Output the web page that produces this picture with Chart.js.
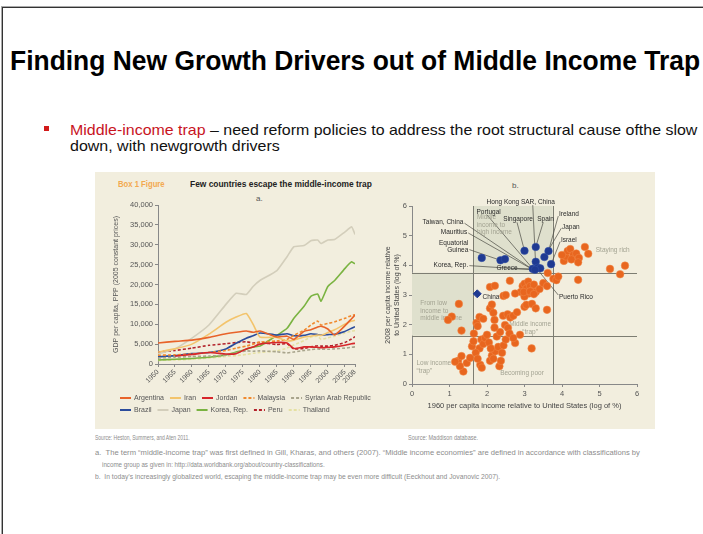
<!DOCTYPE html>
<html>
<head>
<meta charset="utf-8">
<script src="https://cdn.jsdelivr.net/npm/chart.js@4.4.0/dist/chart.umd.min.js"></script>
<style>
body{margin:0;width:703px;height:534px;overflow:hidden;background:#fff;position:relative;font-family:'Liberation Sans',Arial,sans-serif}
.abs{position:absolute;white-space:nowrap;transform-origin:0 0;line-height:1}
#frame{position:absolute;left:2px;top:7px;width:730px;height:560px;border-left:1px solid #333;border-top:1px solid #333;box-shadow:-1px -1px 0 #aaa}
#title{left:10px;top:48px;font-size:27px;font-weight:bold;color:#000}
.bl{font-size:15px;color:#111}
#dot{left:44px;top:126px;width:5px;height:5px;background:#d21a1a}
#box{position:absolute;left:95px;top:172px;width:560px;height:257px;background:#f2eede}
.head{font-size:9.5px;font-weight:bold;color:#222}
.sub{font-size:8px;color:#555}
.fn{font-size:7px;color:#8c8c8c}
canvas{position:absolute}
</style>
</head>
<body>
<div id="frame"></div>
<div id="title" class="abs" data-w="690">Finding New Growth Drivers out of Middle Income Trap</div>
<div id="dot" class="abs"></div>
<div class="abs bl" style="left:70px;top:122px" data-w="627"><span style="color:#c8141e">Middle-income trap</span> – need reform policies to address the root structural cause ofthe slow</div>
<div class="abs bl" style="left:70px;top:138px" data-w="210">down, with newgrowth drivers</div>
<div id="box"></div>
<div class="abs head" style="left:118px;top:179px;color:#f3a950" data-w="47">Box 1 Figure</div>
<div class="abs head" style="left:190px;top:179px" data-w="182">Few countries escape the middle-income trap</div>
<div class="abs sub" style="left:256px;top:195px">a.</div>
<div class="abs sub" style="left:512px;top:182px">b.</div>
<canvas id="incomeChart" width="280" height="232" style="left:100px;top:193px"></canvas>
<canvas id="trapChart" width="275" height="225" style="left:380px;top:193px"></canvas>
<div class="abs fn" style="left:95px;top:434px" data-w="95">Source: Heston, Summers, and Aten 2011.</div>
<div class="abs fn" style="left:408px;top:434px" data-w="70">Source: Maddison database.</div>
<div class="abs fn" style="left:95px;top:449px" data-w="545">a.&nbsp;&nbsp;The term “middle-income trap” was first defined in Gill, Kharas, and others (2007). “Middle income economies” are defined in accordance with classifications by</div>
<div class="abs fn" style="left:102px;top:461px" data-w="223">income group as given in: http://data.worldbank.org/about/country-classifications.</div>
<div class="abs fn" style="left:95px;top:473px" data-w="405">b.&nbsp;&nbsp;In today’s increasingly globalized world, escaping the middle-income trap may be even more difficult (Eeckhout and Jovanovic 2007).</div>

<script>
// Panel a: GDP per capita, PPP (2005 constant prices)
const years = [1950, 1955, 1960, 1965, 1970, 1973, 1976, 1978, 1980, 1985, 1988, 1990, 1993, 1995, 1997, 1998, 2000, 2002, 2005, 2007, 2008];
const tickYears = [1950, 1955, 1960, 1965, 1970, 1975, 1980, 1985, 1990, 1995, 2000, 2005, 2008];

const argentina = [5300, 5700, 6000, 6700, 7600, 8000, 8300, 8000, 8300, 6800, 7000, 6200, 8200, 8600, 9300, 9500, 8800, 7300, 9600, 11400, 12300];
const iran      = [3000, 3800, 5000, 7500, 10500, 11800, 12700, 10000, 6800, 6700, 5800, 6000, 6800, 7000, 7300, 7200, 7900, 8600, 10000, 10800, 11000];
const jordan    = [null, 2000, 2400, 2900, 2500, 2600, 3800, 4300, 5000, 5400, 5300, 3900, 4300, 4300, 4200, 4100, 4200, 4300, 4700, 5100, 5200];
const malaysia  = [2200, 2300, 2500, 2900, 3400, 4000, 4500, 5000, 5500, 5800, 6200, 7200, 8500, 9800, 10800, 9800, 10200, 10600, 11500, 12200, 12400];
const syria     = [1500, 1700, 1900, 2000, 2200, 2800, 3300, 3200, 3300, 3100, 2800, 3000, 3400, 3600, 3800, 3700, 3700, 3800, 4000, 4200, 4300];
const brazil    = [1800, 2100, 2600, 2900, 3800, 5200, 6500, 7100, 7800, 7300, 7600, 7100, 7200, 7600, 7400, 7300, 7400, 7500, 8200, 9000, 9400];
const japan     = [2500, 3800, 6500, 9800, 15000, 17800, 17500, 19500, 21000, 23500, 27000, 29500, 29800, 31000, 31200, 30300, 31200, 31300, 33200, 34500, 32600];
const korea     = [1000, 1200, 1400, 1700, 2300, 3000, 3700, 4300, 4500, 7200, 9000, 11500, 14500, 17000, 17600, 15800, 19500, 21000, 24000, 25700, 25200];
const peru      = [3000, 3400, 4000, 4700, 5100, 5400, 5600, 5300, 5400, 4900, 5100, 3800, 3900, 4300, 4600, 4500, 4500, 4700, 5400, 6300, 6900];
const thailand  = [900, 1000, 1200, 1500, 1900, 2100, 2400, 2700, 2900, 3300, 4000, 4800, 5900, 6800, 7000, 6200, 6600, 7000, 7800, 8300, 8400];

const countries = ['Argentina', 'Iran', 'Jordan', 'Malaysia', 'Syrian Arab Republic', 'Brazil', 'Japan', 'Korea, Rep.', 'Peru', 'Thailand'];
const countryValues = [argentina, iran, jordan, malaysia, syria, brazil, japan, korea, peru, thailand];
const countryColors = ['#e8632a', '#f3c46c', '#d7262b', '#f08a2e', '#a8a48c', '#2b4c9c', '#d3cebb', '#7ab341', '#b3212a', '#e5e0a2'];
const countryDashed = [false, false, false, true, true, false, false, false, true, true];

// Panel b: 1960 vs 2008 income relative to US (log of %)
const otherX = [3.62, 3.77, 3.85, 3.9, 4.05, 4.1, 4.15, 4.22, 4.3, 4.38, 4.25, 4.45, 4.43, 4.0, 4.61, 4.7, 4.43, 5.28, 5.55, 5.68,
  2.61, 2.08, 2.21, 2.44, 2.95, 3.0, 3.05, 3.1, 3.15, 3.2, 3.12, 3.25, 2.9, 3.0, 3.3, 3.4, 3.5, 3.6,
  1.25, 2.5, 2.75, 2.98, 3.15, 3.25, 1.06, 0.96, 1.32, 1.72, 1.8, 1.9, 2.08, 2.13, 2.17, 2.2, 2.43, 2.55, 2.62, 2.7, 2.8, 3.0, 3.05, 3.2, 3.3, 3.6, 2.48, 2.56, 3.19, 2.88, 2.75,
  1.23, 1.32, 1.37, 1.46, 1.55, 1.6, 1.64, 1.8, 1.85, 1.9, 1.82, 1.86, 1.95, 2.0, 2.08, 2.13, 2.17, 2.22, 2.26, 2.3, 2.33, 2.37, 2.44, 2.5, 1.7, 1.75, 2.05, 2.4, 1.28, 1.15, 2.6, 2.7, 2.1, 1.65, 1.75, 2.35, 2.2];
const otherY = [3.74, 3.55, 3.5, 3.62, 4.15, 4.3, 4.48, 4.55, 4.35, 4.4, 4.2, 4.25, 4.1, 4.35, 4.62, 4.39, 3.51, 3.88, 3.7, 3.99,
  3.48, 3.27, 3.31, 2.97, 3.3, 3.38, 3.22, 3.45, 3.3, 3.15, 3.05, 3.35, 3.1, 2.95, 3.1, 3.2, 3.4, 3.3,
  2.7, 3.0, 3.05, 3.1, 3.12, 3.03, 2.27, 2.16, 1.8, 2.06, 2.26, 2.2, 2.55, 2.68, 2.4, 2.16, 2.3, 2.35, 2.24, 2.3, 2.42, 2.6, 2.67, 2.7, 2.55, 2.5, 1.99, 1.89, 1.2, 1.66, 1.38,
  0.78, 0.94, 0.42, 0.71, 0.88, 1.27, 1.44, 1.2, 1.5, 1.35, 0.65, 0.55, 1.55, 1.66, 0.78, 0.96, 0.85, 1.1, 1.6, 1.25, 0.6, 0.78, 1.3, 1.5, 1.05, 0.85, 1.4, 1.05, 0.6, 0.75, 1.7, 1.55, 1.2, 1.7, 1.95, 1.75, 1.9];
const escapeX = [1.86, 2.36, 2.48, 3.0, 3.3, 3.53, 3.64, 3.71, 3.22, 3.3, 3.35, 3.42, 3.28];
const escapeY = [4.25, 4.17, 4.21, 4.49, 4.62, 4.28, 4.48, 4.04, 3.88, 4.12, 3.92, 3.9, 3.85];
const chinaX = [1.74];
const chinaY = [3.04];
const thresholds = [1.63, 3.75];

Chart.defaults.font.family = "'Liberation Sans', Arial, sans-serif";
Chart.defaults.color = '#555';

// draws the two-row line legend under panel a
const lineLegend = {
  id: 'lineLegend',
  afterDraw(chart) {
    const ctx = chart.ctx;
    ctx.save();
    ctx.font = "7px 'Liberation Sans', Arial, sans-serif";
    ctx.textBaseline = 'middle';
    let x = 20, y = 205;
    chart.data.datasets.forEach((ds, i) => {
      if (i === 5) { x = 20; y = 217; }
      ctx.strokeStyle = ds.borderColor;
      ctx.lineWidth = 2;
      ctx.setLineDash(ds.borderDash || []);
      ctx.beginPath();
      ctx.moveTo(x, y);
      ctx.lineTo(x + 11, y);
      ctx.stroke();
      ctx.setLineDash([]);
      ctx.fillStyle = '#555';
      ctx.fillText(ds.label, x + 14, y + 0.5);
      x += 14 + ctx.measureText(ds.label).width + 6;
    });
    ctx.restore();
  }
};

function createIncomeChart() {
  const ctx = document.getElementById('incomeChart').getContext('2d');
  new Chart(ctx, {
    type: 'line',
    data: {
      datasets: countries.map((name, i) => ({
        label: name,
        data: years.map((yr, j) => ({ x: yr, y: countryValues[i][j] })),
        borderColor: countryColors[i],
        borderWidth: 1.6,
        borderDash: countryDashed[i] ? [3, 2] : [],
        pointRadius: 0,
        tension: 0.15,
        fill: false
      }))
    },
    options: {
      responsive: false,
      animation: false,
      layout: { padding: { left: 12, top: 12, right: 25, bottom: 33 } },
      plugins: { legend: { display: false }, tooltip: { enabled: false } },
      scales: {
        x: {
          type: 'linear', min: 1950, max: 2008,
          afterBuildTicks: s => { s.ticks = tickYears.map(v => ({ value: v })); },
          afterFit: s => { s.height = 28; },
          ticks: { minRotation: 45, maxRotation: 45, padding: 1, font: { size: 7 }, callback: v => String(v) },
          grid: { drawOnChartArea: false, tickLength: 3, color: '#888' },
          border: { color: '#888' }
        },
        y: {
          min: 0, max: 40000,
          afterFit: s => { s.width = 46; },
          ticks: { stepSize: 5000, padding: 2, font: { size: 7.5 }, callback: v => v.toLocaleString('en-US') },
          grid: { drawOnChartArea: false, tickLength: 3, color: '#888' },
          border: { color: '#888' },
          title: { display: true, text: 'GDP per capita, PPP (2005 constant prices)', font: { size: 7 }, padding: 0 }
        }
      }
    },
    plugins: [lineLegend]
  });
}

// country labels with leader lines and region captions for panel b
const leaderLabels = [
  { text: ['Hong Kong SAR, China'], tx: 2.9, ty: 6.14, align: 'center', from: [3.22, 6.03], to: [3.3, 3.95] },
  { text: ['Portugal'], tx: 1.72, ty: 5.79, align: 'left', from: [2.0, 5.7], to: [3.23, 3.87] },
  { text: ['Singapore'], tx: 2.83, ty: 5.54, align: 'center', from: [2.8, 5.45], to: [3.0, 4.49] },
  { text: ['Spain'], tx: 3.56, ty: 5.54, align: 'center', from: [3.5, 5.45], to: [3.3, 4.62] },
  { text: ['Ireland'], tx: 3.92, ty: 5.71, align: 'left', from: [3.9, 5.66], to: [3.64, 4.48] },
  { text: ['Japan'], tx: 4.0, ty: 5.3, align: 'left', from: [3.98, 5.25], to: [3.53, 4.28] },
  { text: ['Israel'], tx: 3.97, ty: 4.84, align: 'left', from: [3.95, 4.8], to: [3.71, 4.04] },
  { text: ['Taiwan, China'], tx: 1.37, ty: 5.45, align: 'right', from: [1.4, 5.42], to: [3.23, 3.85] },
  { text: ['Mauritius'], tx: 1.47, ty: 5.11, align: 'right', from: [1.5, 5.09], to: [3.23, 3.85] },
  { text: ['Equatorial', 'Guinea'], tx: 1.5, ty: 4.75, align: 'right', from: [1.53, 4.53], to: [2.36, 4.17] },
  { text: ['Korea, Rep.'], tx: 1.5, ty: 3.99, align: 'right', from: [1.53, 3.99], to: [3.23, 3.85] },
  { text: ['Greece'], tx: 2.25, ty: 3.89, align: 'left', from: [2.75, 3.89], to: [3.2, 3.88] },
  { text: ['China'], tx: 1.88, ty: 2.93, align: 'left', from: null, to: null },
  { text: ['Puerto Rico'], tx: 3.92, ty: 2.93, align: 'left', from: [3.9, 3.0], to: [3.35, 3.85] }
];
const regionLabels = [
  { text: ['Staying rich'], tx: 4.9, ty: 4.5, align: 'left' },
  { text: ['Middle', 'income to', 'high income'], tx: 1.73, ty: 5.62, align: 'left' },
  { text: ['From low', 'income to', 'middle income'], tx: 0.22, ty: 2.72, align: 'left' },
  { text: ['Middle income', '“trap”'], tx: 3.15, ty: 2.0, align: 'center' },
  { text: ['Low income', '“trap”'], tx: 0.12, ty: 0.7, align: 'left' },
  { text: ['Becoming poor'], tx: 2.35, ty: 0.37, align: 'left' }
];

function drawLabel(ctx, x, y, item, color) {
  ctx.fillStyle = color;
  ctx.textAlign = item.align;
  ctx.textBaseline = 'middle';
  item.text.forEach((t, k) => ctx.fillText(t, x.getPixelForValue(item.tx), y.getPixelForValue(item.ty) + k * 7.5));
}

const trapPlot = {
  id: 'trapPlot',
  beforeDatasetsDraw(chart) {
    const { ctx, chartArea: a, scales: { x, y } } = chart;
    const [lo, hi] = thresholds;
    ctx.save();
    ctx.fillStyle = '#dfe0cd';
    ctx.fillRect(x.getPixelForValue(lo), a.top, x.getPixelForValue(hi) - x.getPixelForValue(lo), y.getPixelForValue(hi) - a.top);
    ctx.fillRect(a.left, y.getPixelForValue(hi), x.getPixelForValue(lo) - a.left, y.getPixelForValue(lo) - y.getPixelForValue(hi));
    ctx.strokeStyle = '#7d7d72';
    ctx.lineWidth = 1;
    thresholds.forEach(t => {
      const px = Math.round(x.getPixelForValue(t)) + 0.5;
      const py = Math.round(y.getPixelForValue(t)) + 0.5;
      ctx.beginPath(); ctx.moveTo(px, a.top); ctx.lineTo(px, a.bottom); ctx.stroke();
      ctx.beginPath(); ctx.moveTo(a.left, py); ctx.lineTo(a.right, py); ctx.stroke();
    });
    ctx.strokeStyle = '#4a4a44';
    ctx.lineWidth = 0.7;
    leaderLabels.forEach(l => {
      if (!l.from) return;
      ctx.beginPath();
      ctx.moveTo(x.getPixelForValue(l.from[0]), y.getPixelForValue(l.from[1]));
      ctx.lineTo(x.getPixelForValue(l.to[0]), y.getPixelForValue(l.to[1]));
      ctx.stroke();
    });
    ctx.font = "6.5px 'Liberation Sans', Arial, sans-serif";
    regionLabels.forEach(r => drawLabel(ctx, x, y, r, '#a3a392'));
    ctx.restore();
  },
  afterDatasetsDraw(chart) {
    const { ctx, scales: { x, y } } = chart;
    ctx.save();
    ctx.font = "6.5px 'Liberation Sans', Arial, sans-serif";
    leaderLabels.forEach(l => drawLabel(ctx, x, y, l, '#2a2a2a'));
    ctx.restore();
  }
};

function createTrapChart() {
  const ctx = document.getElementById('trapChart').getContext('2d');
  const toPoints = (xs, ys) => xs.map((v, i) => ({ x: v, y: ys[i] }));
  new Chart(ctx, {
    type: 'scatter',
    data: {
      datasets: [
        { label: 'Other economies', data: toPoints(otherX, otherY), backgroundColor: '#e8661f', borderColor: '#f08a4a', borderWidth: 0.5, pointRadius: 3.8 },
        { label: 'Escaped the trap', data: toPoints(escapeX, escapeY), backgroundColor: '#1f3a92', borderColor: '#3552a8', borderWidth: 0.5, pointRadius: 3.8 },
        { label: 'China', data: toPoints(chinaX, chinaY), backgroundColor: '#1f3a92', borderColor: '#1f3a92', pointStyle: 'rectRot', pointRadius: 4 }
      ]
    },
    options: {
      responsive: false,
      animation: false,
      layout: { padding: { left: 4, top: 13, right: 18, bottom: 8 } },
      plugins: { legend: { display: false }, tooltip: { enabled: false } },
      scales: {
        x: {
          min: 0, max: 6,
          afterFit: s => { s.height = 26; },
          ticks: { stepSize: 1, padding: 2, font: { size: 7.5 } },
          grid: { drawOnChartArea: false, tickLength: 3, color: '#888' },
          border: { color: '#888' },
          title: { display: true, text: '1960 per capita income relative to United States (log of %)', font: { size: 7.5 }, color: '#444', padding: 0 }
        },
        y: {
          min: 0, max: 6,
          afterFit: s => { s.width = 28; },
          ticks: { stepSize: 1, padding: 2, font: { size: 7.5 } },
          grid: { drawOnChartArea: false, tickLength: 3, color: '#888' },
          border: { color: '#888' },
          title: { display: true, text: ['2008 per capita income relative', 'to United States (log of %)'], font: { size: 7 }, color: '#444', padding: 0 }
        }
      }
    },
    plugins: [trapPlot]
  });
}

// squeeze slide texts to the widths they have in the picture
document.querySelectorAll('[data-w]').forEach(el => {
  el.style.transform = 'scaleX(' + (+el.dataset.w / el.scrollWidth) + ')';
});

createIncomeChart();
createTrapChart();
</script>
</body>
</html>
